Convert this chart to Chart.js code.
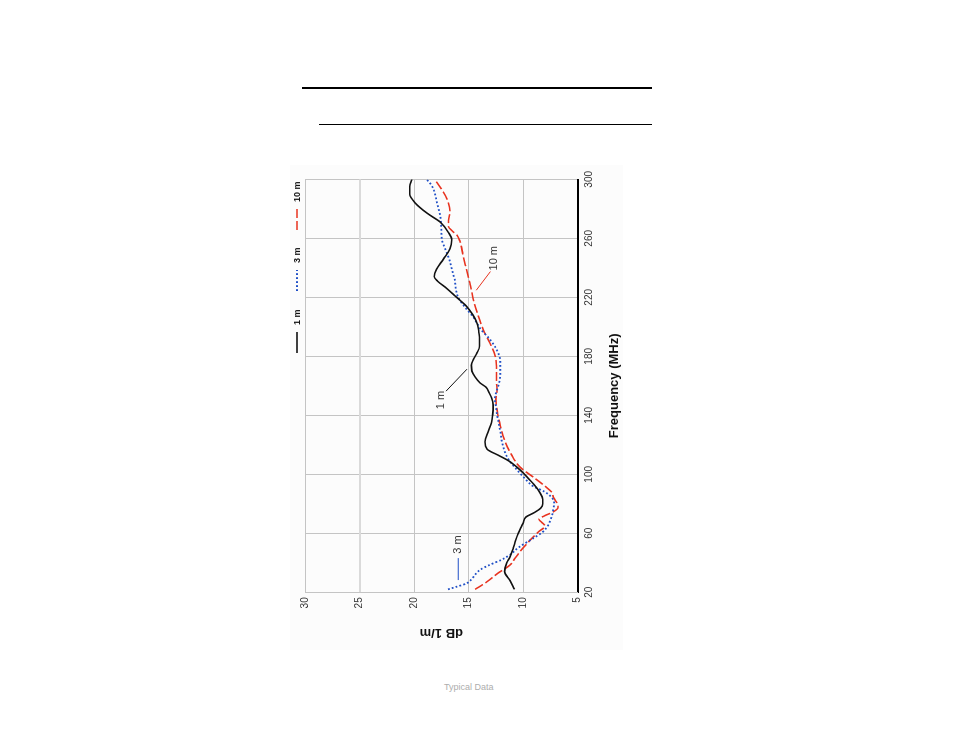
<!DOCTYPE html>
<html>
<head>
<meta charset="utf-8">
<title>Field strength vs frequency</title>
<script src="https://cdn.jsdelivr.net/npm/chart.js@4.4.1/dist/chart.umd.min.js"></script>
<style>
    html, body { margin: 0; padding: 0; background: #fff; }
    body { width: 954px; height: 738px; position: relative; overflow: hidden; }
    .rule-thick { position: absolute; left: 302px; top: 87px; width: 350px; height: 2px; background: #000; }
    .rule-thin { position: absolute; left: 319px; top: 124px; width: 333px; height: 1px; background: #000; }
    /* chart is drawn upright, then turned a quarter turn to the left */
    #wrap { position: absolute; left: 290px; top: 650px; width: 485px; height: 333px;
            transform-origin: 0 0; transform: rotate(-90deg); }
    .note { position: absolute; left: 444px; top: 682px; font: 9px 'Liberation Sans', Arial, sans-serif; color: #adadad; }
</style>
</head>
<body>
<div class="rule-thick"></div>
<div class="rule-thin"></div>
<div id="wrap"><canvas id="fs-chart" width="485" height="333"></canvas></div>
<div class="note">Typical Data</div>

<script>
// Tick values
const freqTicks = [20, 60, 100, 140, 180, 220, 260, 300];
const dbTicks = [5, 10, 15, 20, 25, 30];

// Series names
const seriesLabels = ['1 m', '3 m', '10 m'];

// 1 m curve (MHz, dB 1/m)
const freq1m = [22, 28, 34, 40, 44, 50, 55, 60, 64, 67, 71, 74, 77, 80, 83, 88, 93, 97, 101, 105,
                109, 113, 117, 122, 129, 135, 140, 147, 152, 155, 159, 162, 166, 170, 174, 178, 182,
                187, 193, 198, 202, 208, 214, 220, 226, 231, 234, 239, 246, 253, 259, 264, 271, 277,
                284, 290, 295, 300];
const db1m = [10.8, 11.2, 11.7, 11.5, 11.2, 10.9, 10.7, 10.45, 10.2, 10.0, 9.75, 9.0, 8.4, 8.2, 8.2, 8.5, 9.0, 9.5, 10.0, 10.6,
              11.3, 12.3, 13.3, 13.5, 13.2, 12.9, 12.8, 12.75, 12.9, 13.1, 13.4, 13.95, 14.4, 14.7, 14.75, 14.55, 14.25,
              14.0, 14.0, 14.1, 14.2, 14.6, 15.2, 16.1, 17.0, 17.85, 18.15, 17.95, 17.3, 16.7, 16.55, 16.85, 17.6, 18.8,
              19.9, 20.4, 20.4, 20.2];

// 3 m curve
const freq3m = [22, 24, 26, 30, 35, 38.5, 42, 46, 50, 56.5, 61, 65, 68, 72, 76, 80, 84, 88, 92, 96,
                100, 105, 109, 113, 118, 124, 129, 135, 140, 146, 151, 156, 162, 168, 177, 184, 191, 199,
                207, 213, 220, 227, 231, 238, 244, 253, 259, 266, 275, 284, 293, 297, 300];
const db3m = [16.9, 16.0, 15.2, 14.6, 14.0, 13.1, 12.0, 11.1, 10.5, 9.1, 8.2, 7.75, 7.55, 7.35, 7.25, 7.15, 7.35, 8.0, 9.1, 9.7,
              10.2, 10.8, 11.25, 11.55, 11.8, 12.0, 12.1, 12.25, 12.4, 12.5, 12.6, 12.45, 12.2, 12.1, 12.1, 12.4, 13.0, 13.95,
              14.6, 15.3, 15.95, 16.2, 16.25, 16.5, 16.7, 17.15, 17.45, 17.5, 17.6, 17.9, 18.2, 18.5, 18.85];

// 10 m curve
const freq10m = [22, 27, 33, 38.5, 43, 47.5, 55, 61, 65, 67.5, 69.5, 72, 74.5, 77.5, 80, 84, 88, 92, 98, 105,
                 113, 122, 133, 142, 151, 157, 164, 173, 180, 189, 198, 207, 218, 227, 230, 239, 248, 258,
                 262, 265, 268, 272, 278, 287, 293, 300];
const db10m = [14.4, 13.35, 12.3, 11.2, 10.75, 10.3, 9.4, 8.6, 8.0, 8.3, 8.55, 8.0, 7.25, 6.8, 6.85, 7.2, 7.4, 8.0, 9.05, 10.3,
               11.05, 11.65, 12.1, 12.35, 12.5, 12.4, 12.45, 12.45, 12.55, 13.05, 13.65, 14.1, 14.55, 14.8, 14.9, 15.2, 15.5, 15.8,
               16.05, 16.5, 16.85, 16.85, 16.7, 17.0, 17.45, 18.1];

const NARROW = "'Liberation Sans Narrow', 'Liberation Sans', Arial, sans-serif";
const SANS = "'Liberation Sans', Arial, sans-serif";

function toPoints(freqs, values) {
    return freqs.map((f, i) => ({ x: f, y: values[i] }));
}

// Faint panel behind the whole chart
const panelBg = {
    id: 'panelBg',
    beforeDraw(chart) {
        const ctx = chart.ctx;
        ctx.save();
        ctx.fillStyle = '#fcfcfc';
        ctx.fillRect(0, 0, chart.width, chart.height);
        ctx.restore();
    }
};

// Legend drawn as short line samples followed by bold labels
const lineLegend = {
    id: 'lineLegend',
    afterDraw(chart) {
        const ctx = chart.ctx;
        const starts = [297, 359, 420];
        const cy = 7;
        ctx.save();
        chart.data.datasets.forEach((ds, i) => {
            const x0 = starts[i];
            ctx.strokeStyle = ds.borderColor;
            ctx.lineWidth = ds.borderWidth;
            ctx.setLineDash(ds.borderDash || []);
            ctx.beginPath();
            ctx.moveTo(x0, cy);
            ctx.lineTo(x0 + 21, cy);
            ctx.stroke();
            ctx.setLineDash([]);
            ctx.fillStyle = '#111';
            ctx.font = 'bold 9px ' + SANS;
            ctx.textAlign = 'left';
            ctx.textBaseline = 'middle';
            ctx.fillText(ds.label, x0 + 28, cy + 0.5);
        });
        ctx.restore();
    }
};

// Leader lines and labels next to the curves
const curveNotes = {
    id: 'curveNotes',
    afterDatasetsDraw(chart) {
        const { ctx, scales: { x, y } } = chart;
        const notes = [
            { text: '1 m', color: '#111', from: [156.4, 17.07], to: [171.3, 15.15], at: [150.3, 17.5] },
            { text: '3 m', color: '#1f4fc6', from: [28.3, 15.95], to: [43.2, 15.95], at: [52.4, 16.0] },
            { text: '10 m', color: '#e8331f', from: [224.8, 14.3], to: [237.5, 13.0], at: [246.5, 12.67] }
        ];
        ctx.save();
        notes.forEach(n => {
            ctx.strokeStyle = n.color;
            ctx.lineWidth = 1;
            ctx.beginPath();
            ctx.moveTo(x.getPixelForValue(n.from[0]), y.getPixelForValue(n.from[1]));
            ctx.lineTo(x.getPixelForValue(n.to[0]), y.getPixelForValue(n.to[1]));
            ctx.stroke();
            ctx.fillStyle = '#333';
            ctx.font = '11px ' + NARROW;
            ctx.textAlign = 'center';
            ctx.textBaseline = 'middle';
            ctx.fillText(n.text, x.getPixelForValue(n.at[0]), y.getPixelForValue(n.at[1]));
        });
        ctx.restore();
    }
};

const ctx = document.getElementById('fs-chart').getContext('2d');
const fieldChart = new Chart(ctx, {
    type: 'line',
    data: {
        datasets: [
            {
                label: seriesLabels[0],
                data: toPoints(freq1m, db1m),
                borderColor: '#111111',
                borderWidth: 1.6,
                pointRadius: 0,
                cubicInterpolationMode: 'monotone'
            },
            {
                label: seriesLabels[1],
                data: toPoints(freq3m, db3m),
                borderColor: '#1f4fc6',
                borderWidth: 1.8,
                borderDash: [1.8, 2.2],
                pointRadius: 0,
                cubicInterpolationMode: 'monotone'
            },
            {
                label: seriesLabels[2],
                data: toPoints(freq10m, db10m),
                borderColor: '#e8331f',
                borderWidth: 1.6,
                borderDash: [9, 3],
                pointRadius: 0,
                cubicInterpolationMode: 'monotone'
            }
        ]
    },
    options: {
        responsive: false,
        animation: false,
        layout: {
            padding: { left: 0, right: 13.8, top: 15, bottom: 0 }
        },
        scales: {
            x: {
                type: 'linear',
                min: 20,
                max: 300,
                afterBuildTicks: scale => { scale.ticks = freqTicks.map(v => ({ value: v })); },
                afterFit: scale => { scale.height = 45.3; },
                grid: { color: '#c4c4c4', lineWidth: 1, drawTicks: false },
                border: { color: '#000', width: 2 },
                ticks: {
                    padding: 6,
                    maxRotation: 0,
                    color: '#333',
                    font: { family: NARROW, size: 10 }
                },
                title: {
                    display: true,
                    text: 'Frequency (MHz)',
                    color: '#111',
                    font: { family: SANS, size: 13, weight: 'bold' },
                    padding: { top: 0, bottom: 1 }
                }
            },
            y: {
                type: 'linear',
                min: 5,
                max: 30,
                afterBuildTicks: scale => { scale.ticks = dbTicks.map(v => ({ value: v })); },
                afterFit: scale => { scale.width = 57.7; },
                grid: {
                    color: c => (c.tick && c.tick.value === 25) ? '#dadada' : '#c4c4c4',
                    lineWidth: c => (c.tick && c.tick.value === 25) ? 2 : 1,
                    drawTicks: false
                },
                border: { color: '#c4c4c4', width: 1 },
                ticks: {
                    padding: 5,
                    color: '#333',
                    font: { family: NARROW, size: 10 }
                },
                title: {
                    display: true,
                    text: 'dB 1/m',
                    color: '#111',
                    font: { family: SANS, size: 13, weight: 'bold' },
                    padding: { top: 10, bottom: 0 }
                }
            }
        },
        plugins: {
            legend: { display: false },
            tooltip: { enabled: false }
        }
    },
    plugins: [panelBg, curveNotes, lineLegend]
});
</script>
</body>
</html>
